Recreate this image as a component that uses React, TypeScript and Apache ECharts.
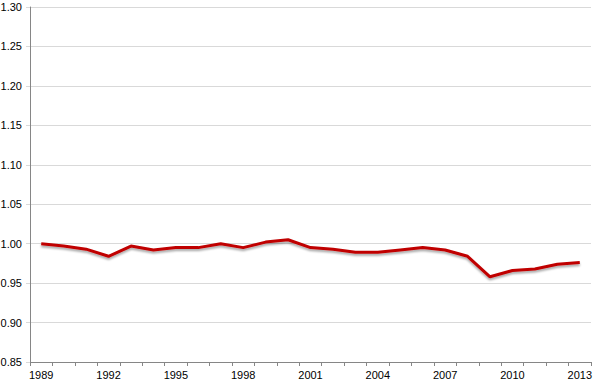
import React, { useEffect, useRef } from "react";
import * as echarts from "echarts";

const years = [
  "1989", "1990", "1991", "1992", "1993", "1994", "1995", "1996", "1997", "1998",
  "1999", "2000", "2001", "2002", "2003", "2004", "2005", "2006", "2007", "2008",
  "2009", "2010", "2011", "2012", "2013",
];
const values = [
  1.0, 0.997, 0.993, 0.984, 0.997, 0.992, 0.995, 0.995, 1.0, 0.995,
  1.002, 1.005, 0.995, 0.993, 0.989, 0.989, 0.992, 0.995, 0.992, 0.984,
  0.958, 0.966, 0.968, 0.974, 0.976,
];

export default function App() {
  const ref = useRef<HTMLDivElement>(null);
  useEffect(() => {
    if (!ref.current) return;
    const chart = echarts.init(ref.current, null, { renderer: "svg" });
    chart.setOption({
      animation: false,
      grid: { left: 30, right: 4, top: 7, bottom: 20, containLabel: false, outerBoundsMode: "none" },
      xAxis: {
        type: "category",
        data: years,
        boundaryGap: true,
        axisLine: { lineStyle: { color: "#868686", width: 1 } },
        axisTick: { show: true, interval: 0, length: 4, lineStyle: { color: "#868686" } },
        axisLabel: {
          interval: 2,
          color: "#000",
          fontSize: 11,
          fontFamily: "Liberation Sans, Arial, sans-serif",
          margin: 7,
        },
        splitLine: { show: false },
      },
      yAxis: {
        type: "value",
        min: 0.85,
        max: 1.3,
        interval: 0.05,
        axisLine: { show: true, lineStyle: { color: "#868686", width: 1 } },
        axisTick: { show: true, length: 4, lineStyle: { color: "#d9d9d9" } },
        axisLabel: {
          color: "#000",
          fontSize: 11,
          fontFamily: "Liberation Sans, Arial, sans-serif",
          margin: 8,
          formatter: (v: number) => v.toFixed(2),
        },
        splitLine: { show: true, lineStyle: { color: "#d9d9d9", width: 1 } },
      },
      series: [
        {
          type: "line",
          data: values,
          symbol: "none",
          lineStyle: {
            color: "#c00000",
            width: 3,
            shadowColor: "rgba(0,0,0,0.35)",
            shadowBlur: 2,
            shadowOffsetY: 2,
          },
        },
      ],
    });
    return () => chart.dispose();
  }, []);
  return (
    <div
      ref={ref}
      style={{ position: "absolute", left: 0, top: 0, width: 595, height: 382, background: "#fff" }}
    />
  );
}
